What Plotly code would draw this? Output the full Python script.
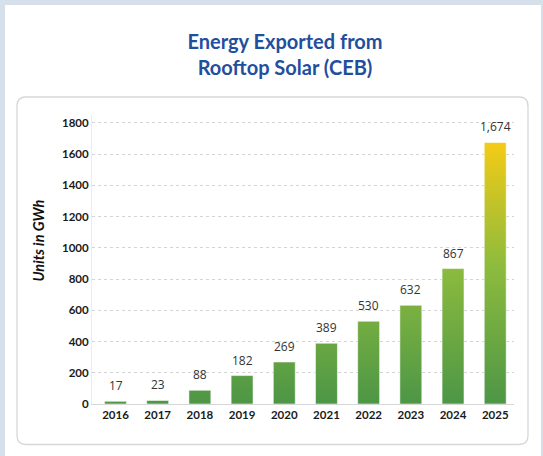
import plotly.graph_objects as go

years = ['2016', '2017', '2018', '2019', '2020', '2021', '2022', '2023', '2024', '2025']
values = [17, 23, 88, 182, 269, 389, 530, 632, 867, 1674]
y_ticks = [0, 200, 400, 600, 800, 1000, 1200, 1400, 1600, 1800]

W, H = 543, 456
L, R, T, B = 92, 29, 115, 52
pw, ph = W - L - R, H - T - B


def px_x(p):
    return (p - L) / pw


def px_y(p):
    return (H - B - p) / ph


half = 0.26
xs, ys = [], []
for i, v in enumerate(values):
    xs += [i - half, i - half, i + half, i + half, i - half, None]
    ys += [0, v, v, 0, 0, None]

fig = go.Figure()
fig.add_trace(go.Scatter(
    x=xs, y=ys, mode='lines', fill='toself',
    line=dict(color='rgba(255,255,255,0.55)', width=1),
    fillgradient=dict(type='vertical', start=0, stop=max(values),
                      colorscale=[[0, '#4d9646'], [0.52, '#8cbb3e'], [1, '#f4cb16']]),
    hoverinfo='skip', showlegend=False,
))

for i, v in enumerate(values):
    fig.add_annotation(x=i, y=v, text=f"{v:,}", showarrow=False, yanchor='bottom', yshift=5,
                       font=dict(family='Open Sans', size=12, color='#333333'))

fig.add_annotation(xref='paper', yref='paper', x=px_x(37.5), y=px_y(241), text='<b><i>Units in GWh</i></b>',
                   textangle=-90, showarrow=False, xanchor='center', yanchor='middle',
                   font=dict(family='Lato', size=14.5, color='#111111'))

# white panel and card
fig.add_shape(type='rect', xref='paper', yref='paper', x0=px_x(5), x1=px_x(541), y0=px_y(5), y1=px_y(460),
              fillcolor='white', line=dict(width=0), layer='below')
x0, x1, y0, y1, r = 17, 528, 97, 444.5, 9
path = (f"M {px_x(x0 + r)},{px_y(y0)} L {px_x(x1 - r)},{px_y(y0)} Q {px_x(x1)},{px_y(y0)} {px_x(x1)},{px_y(y0 + r)} "
        f"L {px_x(x1)},{px_y(y1 - r)} Q {px_x(x1)},{px_y(y1)} {px_x(x1 - r)},{px_y(y1)} "
        f"L {px_x(x0 + r)},{px_y(y1)} Q {px_x(x0)},{px_y(y1)} {px_x(x0)},{px_y(y1 - r)} "
        f"L {px_x(x0)},{px_y(y0 + r)} Q {px_x(x0)},{px_y(y0)} {px_x(x0 + r)},{px_y(y0)} Z")
fig.add_shape(type='path', xref='paper', yref='paper', path=path, fillcolor='white',
              line=dict(color='#d6d7d9', width=1.3), layer='below')

fig.update_layout(
    width=W, height=H,
    margin=dict(l=L, r=R, t=T, b=B),
    paper_bgcolor='#d5e0ea', plot_bgcolor='rgba(0,0,0,0)',
    title=dict(text='<b>Energy Exported from<br>Rooftop Solar (CEB)</b>', xref='container', yref='container',
               x=285 / W, xanchor='center', y=1 - 49 / H, yanchor='top',
               font=dict(family='Lato', size=20, color='#1f4f9e')),
    xaxis=dict(range=[-0.557, 9.445], tickmode='array', tickvals=list(range(len(years))), ticktext=years,
               showgrid=False, zeroline=False, showline=True, linecolor='#d6d6d6', linewidth=1.2,
               tickfont=dict(family='Lato', size=11.5, color='#1a1a1a', weight='bold'), fixedrange=True),
    yaxis=dict(range=[0, 1850], tickmode='array', tickvals=y_ticks, showgrid=True, gridcolor='#d4d4d4',
               griddash='3px,3px', gridwidth=1, zeroline=False, showline=True, linecolor='#ececec', linewidth=1,
               tickfont=dict(family='Lato', size=11.5, color='#1a1a1a', weight='bold'), fixedrange=True),
)

fig.write_html('out.html', config={'displayModeBar': False},
               post_script="document.body.style.margin='0';document.body.style.overflow='hidden';")
